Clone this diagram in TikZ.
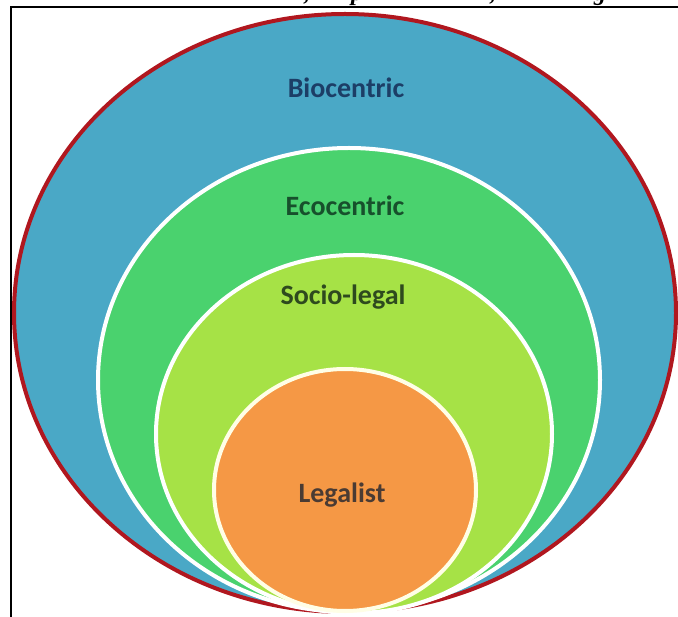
\documentclass[tikz,border=0pt]{standalone}
\usepackage{fontspec}
\setmainfont{Carlito}
\newfontfamily\headfont{Liberation Serif}
\usetikzlibrary{shapes.geometric}
\definecolor{bioblue}{HTML}{4AA8C6}
\definecolor{ecogreen}{HTML}{4AD26E}
\definecolor{sociolime}{HTML}{A6E246}
\definecolor{legalorange}{HTML}{F59845}
\definecolor{rimred}{HTML}{B0171F}
\definecolor{biotext}{HTML}{1C3E66}
\definecolor{ecotext}{HTML}{17502C}
\definecolor{sociotext}{HTML}{2E4A1E}
\definecolor{legaltext}{HTML}{4A3B33}
\tikzset{
  layer/.style={ellipse, inner sep=0pt},
  ring/.style={draw=white, line width=4pt},
  lbl/.style={font=\bfseries\fontsize{28}{32}\selectfont, inner sep=0pt},
  frameline/.style={draw=black, line width=2pt},
  headtxt/.style={font=\headfont\bfseries\itshape\fontsize{24}{28}\selectfont, anchor=base, inner sep=0pt}
}
\begin{document}
\begin{tikzpicture}[x=1pt,y=-1pt]
  \useasboundingbox (0,0) rectangle (678,617);
  % heading above the frame, only its lower part shows
  \begin{scope}
    \clip (0,0) rectangle (678,7);
    \node[headtxt] (h1) at (307,1) {,};
    \node[headtxt] (h2) at (357,1) {p};
    \node[headtxt] (h3) at (493,1) {,};
    \node[headtxt] (h4) at (600,1) {g};
  \end{scope}
  % frame
  \draw[frameline] (11,700) -- (11,7) -- (690,7);
  % nested layers, all meeting near the bottom
  \node[layer, fill=bioblue, draw=rimred, line width=4pt, minimum width=662pt, minimum height=598pt] (bio) at (345,313) {};
  \node[layer, fill=ecogreen, ring, minimum width=502pt, minimum height=464pt] (eco) at (349,380) {};
  \node[layer, fill=sociolime, ring, minimum width=396pt, minimum height=358pt] (socio) at (354,434) {};
  \node[layer, fill=legalorange, draw=white!90!yellow, line width=4pt, minimum width=262pt, minimum height=242pt] (legal) at (345,490) {};
  % labels
  \node[lbl, text=biotext] (tbio) at (346,88) {Biocentric};
  \node[lbl, text=ecotext] (teco) at (345,206) {Ecocentric};
  \node[lbl, text=sociotext] (tsocio) at (343,297) {Socio-legal};
  \node[lbl, text=legaltext] (tlegal) at (342,495) {Legalist};
\end{tikzpicture}
\end{document}
